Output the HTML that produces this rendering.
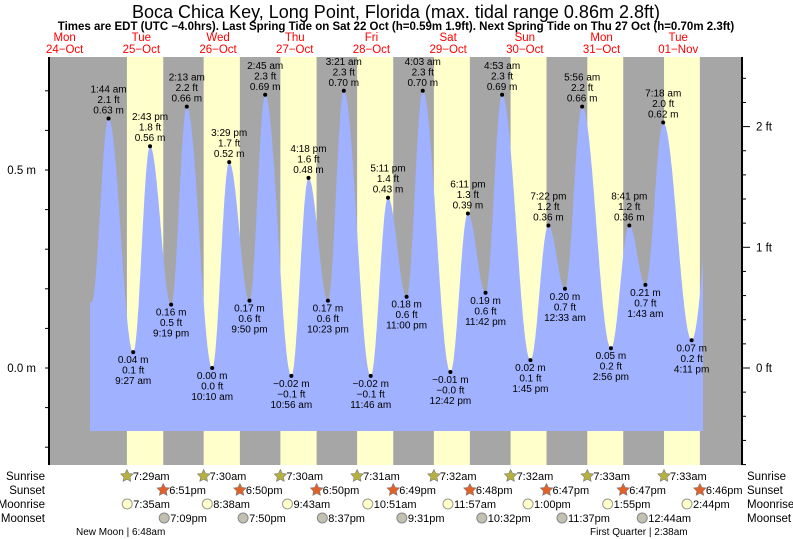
<!DOCTYPE html>
<html><head><meta charset="utf-8"><style>
body{margin:0;background:#fff;}
svg{display:block;font-family:"Liberation Sans",sans-serif;}
</style></head><body>
<svg id="s" width="793" height="539" viewBox="0 0 793 539" xmlns="http://www.w3.org/2000/svg">
<text x="396" y="18" font-size="18" text-anchor="middle">Boca Chica Key, Long Point, Florida (max. tidal range 0.86m 2.8ft)</text>
<text x="396" y="30" font-size="11.5" font-weight="bold" text-anchor="middle">Times are EDT (UTC −4.0hrs). Last Spring Tide on Sat 22 Oct (h=0.59m 1.9ft). Next Spring Tide on Thu 27 Oct (h=0.70m 2.3ft)</text>
<g id="g"></g>
</svg>
<script>
var NS="http://www.w3.org/2000/svg",g=document.getElementById("g");
function el(t,a,txt){var e=document.createElementNS(NS,t);for(var k in a)e.setAttribute(k,a[k]);if(txt!==undefined)e.textContent=txt;g.appendChild(e);return e;}
var X0=103,PH=76.7/24,Y0=368,PM=396;
function X(h){return X0+h*PH;}function Y(m){return Y0-m*PM;}
var T=57,B=465,L=49,R=742;
el("rect",{x:L,y:T,width:R-L,height:B-T,fill:"#a6a6a6"});
var sr=["7:29","7:30","7:30","7:31","7:32","7:32","7:33","7:33"],ss=["6:51","6:50","6:50","6:49","6:48","6:47","6:47","6:46"];
function hm(s,pm){var p=s.split(":");var h=+p[0]%12+(pm?12:0);return h+ (+p[1])/60;}
for(var d=0;d<8;d++){var a=X(d*24+hm(sr[d],0)),b=X(d*24+hm(ss[d],1));el("rect",{x:a,y:T,width:b-a,height:B-T,fill:"#ffffcc"});}
var days=["Mon","Tue","Wed","Thu","Fri","Sat","Sun","Mon","Tue"],dts=["24−Oct","25−Oct","26−Oct","27−Oct","28−Oct","29−Oct","30−Oct","31−Oct","01−Nov"];
for(var i=0;i<9;i++){var cx=X((i-1)*24+12);el("text",{x:cx,y:41,"font-size":"11.5",fill:"#ff0000","text-anchor":"middle"},days[i]);el("text",{x:cx,y:53,"font-size":"11.5",fill:"#ff0000","text-anchor":"middle"},dts[i]);}
var E=[[-3.6,0.165,"",""],[1.733,0.63,"1:44 am","2.1 ft"],[9.45,0.04,"9:27 am","0.1 ft"],[14.717,0.56,"2:43 pm","1.8 ft"],[21.317,0.16,"9:19 pm","0.5 ft"],[26.217,0.66,"2:13 am","2.2 ft"],[34.167,0.00,"10:10 am","0.0 ft"],[39.483,0.52,"3:29 pm","1.7 ft"],[45.833,0.17,"9:50 pm","0.6 ft"],[50.75,0.69,"2:45 am","2.3 ft"],[58.933,-0.02,"10:56 am","−0.1 ft"],[64.3,0.48,"4:18 pm","1.6 ft"],[70.383,0.17,"10:23 pm","0.6 ft"],[75.35,0.70,"3:21 am","2.3 ft"],[83.767,-0.02,"11:46 am","−0.1 ft"],[89.183,0.43,"5:11 pm","1.4 ft"],[95.0,0.18,"11:00 pm","0.6 ft"],[100.05,0.70,"4:03 am","2.3 ft"],[108.7,-0.01,"12:42 pm","−0.0 ft"],[114.183,0.39,"6:11 pm","1.3 ft"],[119.7,0.19,"11:42 pm","0.6 ft"],[124.883,0.69,"4:53 am","2.3 ft"],[133.75,0.02,"1:45 pm","0.1 ft"],[139.367,0.36,"7:22 pm","1.2 ft"],[144.55,0.20,"12:33 am","0.7 ft"],[149.933,0.66,"5:56 am","2.2 ft"],[158.933,0.05,"2:56 pm","0.2 ft"],[164.683,0.36,"8:41 pm","1.2 ft"],[169.717,0.21,"1:43 am","0.7 ft"],[175.3,0.62,"7:18 am","2.0 ft"],[184.183,0.07,"4:11 pm","0.2 ft"],[192.5,0.6,"",""]];
var h0=-4.07,h1=(703-X0)/PH,pts=[];
for(var h=h0;h<=h1+0.001;h+=0.1){var k=0;while(k<E.length-2&&E[k+1][0]<h)k++;var a=E[k],b=E[k+1],t=(h-a[0])/(b[0]-a[0]);t=Math.max(0,Math.min(1,t));var v=a[1]+(b[1]-a[1])*(1-Math.cos(Math.PI*t))/2;pts.push(X(h).toFixed(1)+","+Y(v).toFixed(1));}
var bot=431;
el("path",{d:"M"+X(h0)+","+bot+" L"+pts.join(" L")+" L"+X(h1)+","+bot+"Z",fill:"#9fb1ff"});
for(var i=1;i<E.length-1;i++){var e=E[i],x=X(e[0]),y=Y(e[1]),hi=e[1]>0.3;el("circle",{cx:x,cy:y,r:2,fill:"#000"});var m=(e[1]<0?"−":"")+Math.abs(e[1]).toFixed(2)+" m";var lines=hi?[e[2],e[3],m]:[m,e[3],e[2]];for(var j=0;j<3;j++){var ty=hi?y-26+j*10.5:y+11+j*10.5;el("text",{x:x,y:ty,"font-size":"10","text-anchor":"middle"},lines[j]);}}
el("line",{x1:L,y1:T,x2:L,y2:B,stroke:"#000","stroke-width":2});
el("line",{x1:R,y1:T,x2:R,y2:B,stroke:"#000","stroke-width":2});
for(var v=-0.2;v<=0.75;v+=0.1){var y=Y(v);if(y<T||y>B)continue;el("line",{x1:L-4,y1:y,x2:L,y2:y,stroke:"#000"});}
el("text",{x:36,y:Y(0.5)+4,"font-size":"11.5","text-anchor":"end"},"0.5 m");
el("text",{x:36,y:Y(0)+4,"font-size":"11.5","text-anchor":"end"},"0.0 m");
for(var f=-1.2;f<=2.8;f+=0.2){var y=Y(f*0.3048);if(y<T||y>B)continue;var maj=Math.abs(f-Math.round(f))<0.01;el("line",{x1:R,y1:y,x2:R+(maj?8:4),y2:y,stroke:"#000"});}
[0,1,2].forEach(function(f){el("text",{x:756,y:Y(f*0.3048)+4,"font-size":"11.5"},f+" ft");});
var rows=[["Sunrise",476],["Sunset",490],["Moonrise",504],["Moonset",518]];
rows.forEach(function(r){el("text",{x:45,y:r[1]+4,"font-size":"11.5","text-anchor":"end"},r[0]);el("text",{x:747,y:r[1]+4,"font-size":"11.5"},r[0]);});
function star(x,y,fill){var p=[];for(var i=0;i<10;i++){var a=-Math.PI/2+i*Math.PI/5,rr=i%2?3.2:6.5;p.push((x+rr*Math.cos(a)).toFixed(1)+","+(y+rr*Math.sin(a)).toFixed(1));}el("polygon",{points:p.join(" "),fill:fill,stroke:"#777","stroke-width":0.6});el("circle",{cx:x,cy:y,r:3.3,fill:fill});}
function lab(x,y,t){el("text",{x:x+6,y:y+4,"font-size":"11"},t);}
for(var d=0;d<8;d++){var x=X(d*24+hm(sr[d],0));star(x,476,"#b5b040");lab(x,476,sr[d]+"am");x=X(d*24+hm(ss[d],1));star(x,490,"#e0622a");lab(x,490,ss[d]+"pm");}
var mr=[[0,"7:35am",7.583],[1,"8:38am",8.633],[2,"9:43am",9.717],[3,"10:51am",10.85],[4,"11:57am",11.95],[5,"1:00pm",13],[6,"1:55pm",13.917],[7,"2:44pm",14.733]];
mr.forEach(function(m){var x=X(m[0]*24+m[2]);el("circle",{cx:x,cy:504,r:5,fill:"#ffffc8",stroke:"#999"});lab(x,504,m[1]);});
var ms=[[0,"7:09pm",19.15],[1,"7:50pm",19.833],[2,"8:37pm",20.617],[3,"9:31pm",21.517],[4,"10:32pm",22.533],[5,"11:37pm",23.617],[7,"12:44am",0.733]];
ms.forEach(function(m){var x=X(m[0]*24+m[2]);el("circle",{cx:x,cy:518,r:5,fill:"#c4c0b0",stroke:"#888"});lab(x,518,m[1]);});
el("text",{x:76,y:535,"font-size":"10"},"New Moon | 6:48am");
el("text",{x:590,y:535,"font-size":"10"},"First Quarter | 2:38am");
</script>
</body></html>
